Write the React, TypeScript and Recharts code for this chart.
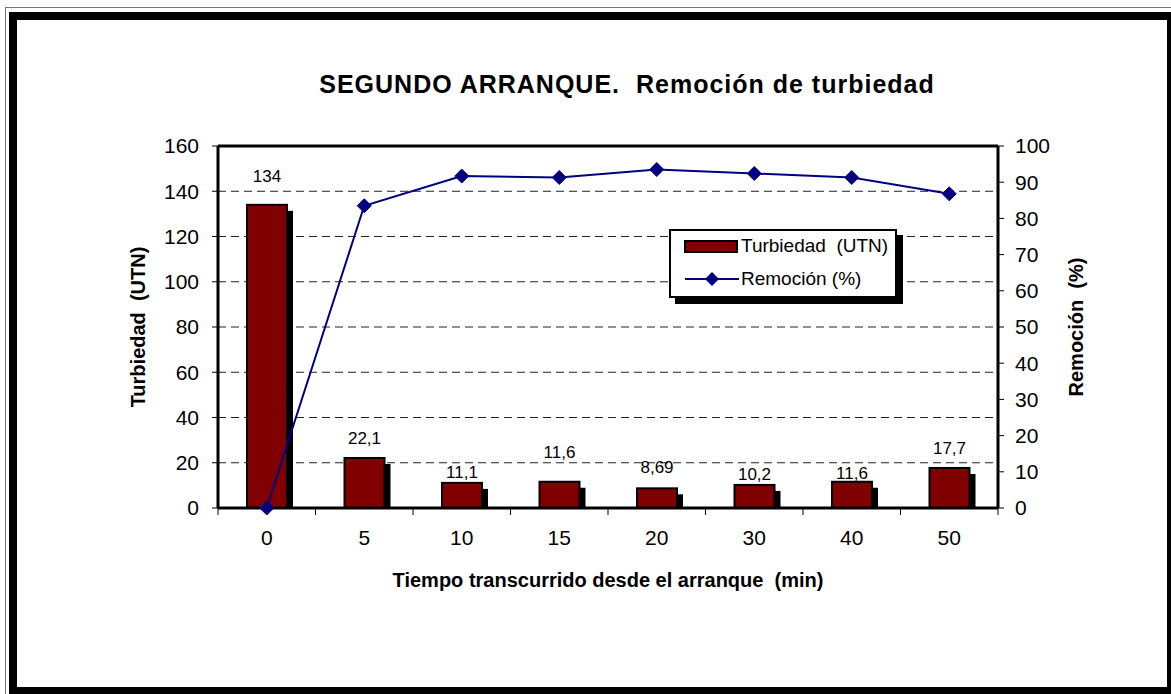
import React from 'react';
import {
  ComposedChart,
  Bar,
  Line,
  LabelList,
  XAxis,
  YAxis,
  CartesianGrid,
  ReferenceLine,
} from 'recharts';

// minutes since start-up
const TIEMPO = ['0', '5', '10', '15', '20', '30', '40', '50'];
// turbidity (UTN), bars on left axis
const TURBIEDAD = [134, 22.1, 11.1, 11.6, 8.69, 10.2, 11.6, 17.7];
// removal (%), line on right axis
const REMOCION = [0, 83.5, 91.7, 91.3, 93.5, 92.4, 91.3, 86.8];

const LEFT_TICKS = [0, 20, 40, 60, 80, 100, 120, 140, 160];
const RIGHT_TICKS = [0, 10, 20, 30, 40, 50, 60, 70, 80, 90, 100];

// how far each value label sits above its bar (Excel placed them unevenly)
const LABEL_LIFT = [29, 20, 11, 30, 21, 11, 9, 20];

const FONT = '"Liberation Sans", Arial, sans-serif';
const MAROON = '#800000';
const NAVY = '#000080';
const X_TICK_GAP = 22;

const data = TIEMPO.map((t, i) => ({ t, turb: TURBIEDAD[i], rem: REMOCION[i] }));

const ShadowBar = (props: any) => {
  const { x, y, width, height } = props;
  if (!height || height <= 0) return null;
  return (
    <g>
      <rect x={x + 6} y={y + 6} width={width} height={Math.max(height - 6, 0)} fill="#000" />
      <rect x={x} y={y} width={width} height={height} fill={MAROON} stroke="#000" strokeWidth={2} />
    </g>
  );
};

const Diamond = (props: any) => {
  const { cx, cy } = props;
  if (cx == null || cy == null) return null;
  const s = 7;
  return (
    <polygon
      points={`${cx},${cy - s} ${cx + s},${cy} ${cx},${cy + s} ${cx - s},${cy}`}
      fill={NAVY}
      stroke={NAVY}
    />
  );
};

const ValueLabel = (props: any) => {
  const { x, y, width, value, index } = props;
  return (
    <text
      x={x + width / 2}
      y={y - LABEL_LIFT[index]}
      dy="0.35em"
      textAnchor="middle"
      fontSize={17}
      fontFamily={FONT}
      fill="#000"
    >
      {String(value).replace('.', ',')}
    </text>
  );
};

// category labels plus tick marks on the band boundaries
const XTick = (props: any) => {
  const { x, y, payload, index, visibleTicksCount } = props;
  const half = payload?.offset ?? 0;
  const axisY = y - X_TICK_GAP;
  return (
    <g>
      <line x1={x - half} x2={x - half} y1={axisY} y2={axisY + 7} stroke="#000" />
      {index === visibleTicksCount - 1 && (
        <line x1={x + half} x2={x + half} y1={axisY} y2={axisY + 7} stroke="#000" />
      )}
      <text x={x} y={y} dy="0.71em" textAnchor="middle" fontSize={21} fontFamily={FONT} fill="#000">
        {payload.value}
      </text>
    </g>
  );
};

const Legenda = () => (
  <div
    style={{
      position: 'absolute',
      left: 669,
      top: 229,
      width: 224,
      height: 65,
      border: '2px solid #000',
      background: '#fff',
      boxShadow: '6px 6px 0 #000',
      fontFamily: FONT,
      fontSize: 19,
      color: '#000',
    }}
  >
    <svg width={60} height={65} style={{ position: 'absolute', left: 12, top: 0 }}>
      <rect x={2} y={10} width={52} height={11} fill={MAROON} stroke="#000" strokeWidth={2} />
      <line x1={2} x2={56} y1={48} y2={48} stroke={NAVY} strokeWidth={2} />
      <polygon points="29,41 36,48 29,55 22,48" fill={NAVY} />
    </svg>
    <div style={{ position: 'absolute', left: 70, top: 4, whiteSpace: 'pre' }}>Turbiedad  (UTN)</div>
    <div style={{ position: 'absolute', left: 70, top: 37, whiteSpace: 'pre' }}>Remoción (%)</div>
  </div>
);

export default function App() {
  return (
    <div
      style={{
        position: 'absolute',
        left: 0,
        top: 0,
        width: 1171,
        height: 694,
        background: '#fff',
        overflow: 'hidden',
        fontFamily: FONT,
      }}
    >
      <div style={{ position: 'absolute', left: 0, top: 0 }}>
        <ComposedChart
          width={1171}
          height={694}
          data={data}
          margin={{ top: 146, right: 93, bottom: 146, left: 138 }}
        >
          <CartesianGrid
            yAxisId="left"
            vertical={false}
            stroke="#222"
            strokeDasharray="8 5"
          />
          <XAxis
            dataKey="t"
            height={40}
            interval={0}
            tickLine={false}
            tickSize={0}
            tickMargin={X_TICK_GAP}
            axisLine={{ stroke: '#000', strokeWidth: 3 }}
            tick={<XTick />}
          />
          <YAxis
            yAxisId="left"
            width={80}
            domain={[0, 160]}
            ticks={LEFT_TICKS}
            interval={0}
            tickSize={6}
            tickMargin={13}
            axisLine={{ stroke: '#000', strokeWidth: 3 }}
            tickLine={{ stroke: '#000' }}
            tick={{ fill: '#000', fontSize: 21, fontFamily: FONT }}
          />
          <YAxis
            yAxisId="right"
            orientation="right"
            width={80}
            domain={[0, 100]}
            ticks={RIGHT_TICKS}
            interval={0}
            tickSize={6}
            tickMargin={11}
            axisLine={{ stroke: '#000', strokeWidth: 3 }}
            tickLine={{ stroke: '#000' }}
            tick={{ fill: '#000', fontSize: 21, fontFamily: FONT }}
          />
          <ReferenceLine yAxisId="left" y={160} stroke="#000" strokeWidth={3} />
          <Bar
            yAxisId="left"
            dataKey="turb"
            barSize={40}
            fill={MAROON}
            shape={<ShadowBar />}
            isAnimationActive={false}
          >
            <LabelList dataKey="turb" content={<ValueLabel />} />
          </Bar>
          <Line
            yAxisId="right"
            type="linear"
            dataKey="rem"
            stroke={NAVY}
            strokeWidth={2}
            dot={<Diamond />}
            activeDot={false}
            isAnimationActive={false}
          />
        </ComposedChart>
      </div>

      <svg
        width={1171}
        height={694}
        style={{ position: 'absolute', left: 0, top: 0, pointerEvents: 'none' }}
      >
        {/* double frame */}
        <rect x={5.5} y={7.5} width={1200} height={720} fill="none" stroke="#777" strokeWidth={1} />
        <rect x={13} y={16} width={1158} height={675} fill="none" stroke="#000" strokeWidth={8} />

        <text
          x={627}
          y={93}
          textAnchor="middle"
          fontSize={25}
          fontWeight="bold"
          letterSpacing={1}
          fontFamily={FONT}
          fill="#000"
          style={{ whiteSpace: 'pre' }}
        >
          {'SEGUNDO ARRANQUE.  Remoción de turbiedad'}
        </text>
        <text
          x={608}
          y={587}
          textAnchor="middle"
          fontSize={20}
          fontWeight="bold"
          fontFamily={FONT}
          fill="#000"
          style={{ whiteSpace: 'pre' }}
        >
          {'Tiempo transcurrido desde el arranque  (min)'}
        </text>
        <text
          transform="translate(145,327) rotate(-90)"
          textAnchor="middle"
          fontSize={20}
          fontWeight="bold"
          fontFamily={FONT}
          fill="#000"
          style={{ whiteSpace: 'pre' }}
        >
          {'Turbiedad  (UTN)'}
        </text>
        <text
          transform="translate(1083,327) rotate(-90)"
          textAnchor="middle"
          fontSize={20}
          fontWeight="bold"
          fontFamily={FONT}
          fill="#000"
          style={{ whiteSpace: 'pre' }}
        >
          {'Remoción  (%)'}
        </text>
      </svg>

      <Legenda />
    </div>
  );
}
